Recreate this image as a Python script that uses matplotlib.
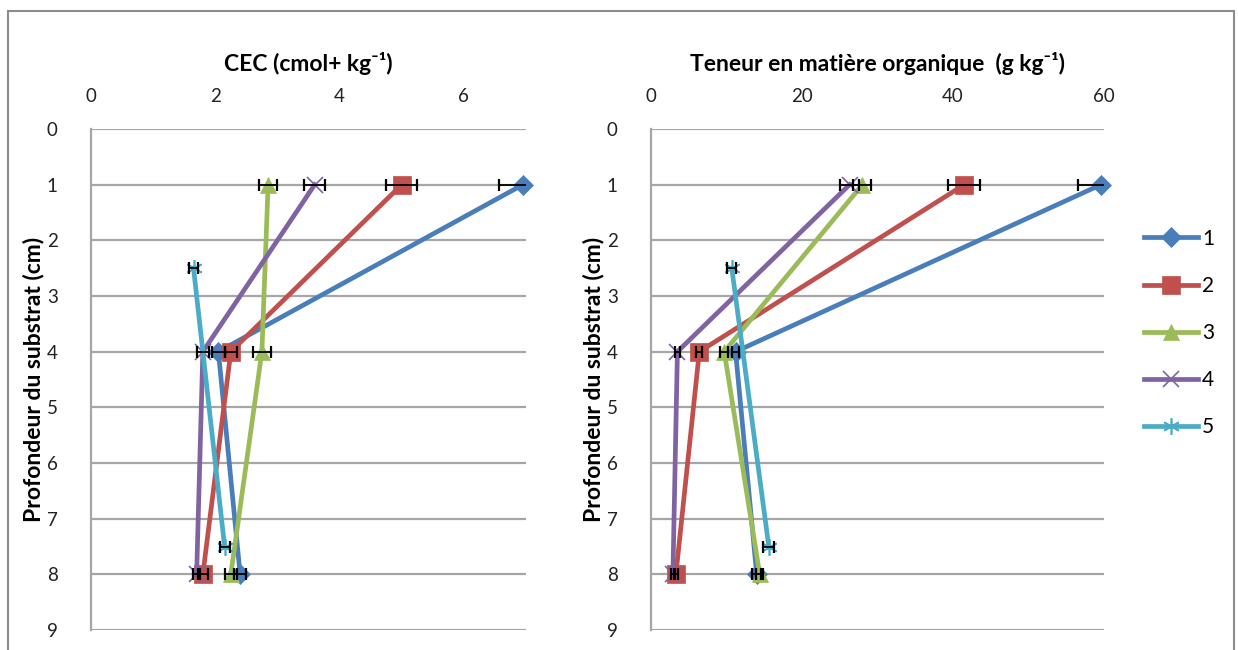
import matplotlib
matplotlib.use("Agg")
import matplotlib.pyplot as plt
from matplotlib.lines import Line2D
from matplotlib.patches import Rectangle

plt.rcParams['font.family'] = ['Lato', 'DejaVu Sans']

# depths (cm)
depth_main = [1, 4, 8]
depth_s5 = [2.5, 7.5]
series_names = ["1", "2", "3", "4", "5"]

# CEC (cmol+ kg-1)
cec_1 = [6.95, 2.05, 2.4]
cec_2 = [5.0, 2.25, 1.8]
cec_3 = [2.85, 2.75, 2.25]
cec_4 = [3.6, 1.8, 1.7]
cec_5 = [1.65, 2.15]
cec_err_1 = [0.38, 0.1, 0.1]
cec_err_2 = [0.25, 0.1, 0.08]
cec_err_3 = [0.14, 0.14, 0.1]
cec_err_4 = [0.17, 0.1, 0.06]
cec_err_5 = [0.07, 0.08]

# organic matter (g kg-1)
mo_1 = [59.6, 11.2, 14.0]
mo_2 = [41.5, 6.4, 3.3]
mo_3 = [28.0, 9.7, 14.4]
mo_4 = [26.3, 3.5, 2.9]
mo_5 = [10.7, 15.6]
mo_err_1 = [3.0, 0.5, 0.6]
mo_err_2 = [2.1, 0.4, 0.3]
mo_err_3 = [1.2, 0.5, 0.5]
mo_err_4 = [1.3, 0.3, 0.3]
mo_err_5 = [0.6, 0.7]

colors = ['#4A7EBB', '#C0504D', '#9BBB59', '#8064A2', '#4BACC6']
markers = ['D', 's', '^', 'x', (6, 2, 0)]
msizes = [10, 12.5, 11, 11, 12]

fig = plt.figure(figsize=(12.38, 6.5), dpi=100)

# chart area border (cut at the bottom like the original)
fig.patches.append(Rectangle((8 / 1238, -0.05), 1226 / 1238, 1.05 - 11 / 650,
                             transform=fig.transFigure, fill=False,
                             edgecolor='#8c8c8c', linewidth=1.5, clip_on=False))

ax1 = fig.add_axes([91 / 1238, 1 - 630 / 650, 435 / 1238, 501 / 650])
ax2 = fig.add_axes([651 / 1238, 1 - 630 / 650, 453 / 1238, 501 / 650])


def draw(ax, vals, errs, xmax, xticks, title):
    depths = [depth_main] * 4 + [depth_s5]
    for i in range(5):
        ax.plot(vals[i], depths[i], color=colors[i], linewidth=3.4,
                marker=markers[i], markersize=msizes[i],
                markeredgewidth=1.2 if i >= 3 else 0.5,
                markeredgecolor=colors[i], zorder=3 + i * 0.1, clip_on=False)
        ax.errorbar(vals[i], depths[i], xerr=errs[i], fmt='none', ecolor='black',
                    elinewidth=1.3, capsize=4, capthick=1.6, zorder=4)
    ax.set_xlim(0, xmax)
    ax.set_ylim(9, 0)
    ax.set_yticks(range(10))
    ax.set_xticks(xticks)
    ax.xaxis.tick_top()
    ax.tick_params(axis='both', length=0, labelsize=13.5, colors='#222222')
    ax.tick_params(axis='x', pad=17)
    ax.tick_params(axis='y', pad=24)
    ax.grid(axis='y', color='#a6a6a6', linewidth=1.6)
    ax.set_axisbelow(True)
    for s in ['top', 'right', 'bottom']:
        ax.spines[s].set_visible(False)
    ax.spines['left'].set_color('#a6a6a6')
    ax.spines['left'].set_linewidth(1.6)
    ax.set_title(title, fontsize=16.5, fontweight='bold', y=1.0, pad=42)
    ax.set_ylabel("Profondeur du substrat (cm)", fontsize=16.5,
                  fontweight='bold', labelpad=2)


draw(ax1, [cec_1, cec_2, cec_3, cec_4, cec_5],
     [cec_err_1, cec_err_2, cec_err_3, cec_err_4, cec_err_5],
     7, [0, 2, 4, 6], "CEC (cmol+ kg⁻¹)")
draw(ax2, [mo_1, mo_2, mo_3, mo_4, mo_5],
     [mo_err_1, mo_err_2, mo_err_3, mo_err_4, mo_err_5],
     60, [0, 20, 40, 60], "Teneur en matière organique  (g kg⁻¹)")

handles = [Line2D([], [], color=colors[i], linewidth=3.4, marker=markers[i],
                  markersize=msizes[i], markeredgecolor=colors[i],
                  markeredgewidth=1.2 if i >= 3 else 0.5)
           for i in range(5)]
fig.legend(handles, series_names, loc='upper left',
           bbox_to_anchor=(1125 / 1238, 1 - 210 / 650), frameon=False,
           fontsize=15, handlelength=2.6, labelspacing=1.3, handletextpad=0.2)

fig.savefig("out.png", dpi=100)
